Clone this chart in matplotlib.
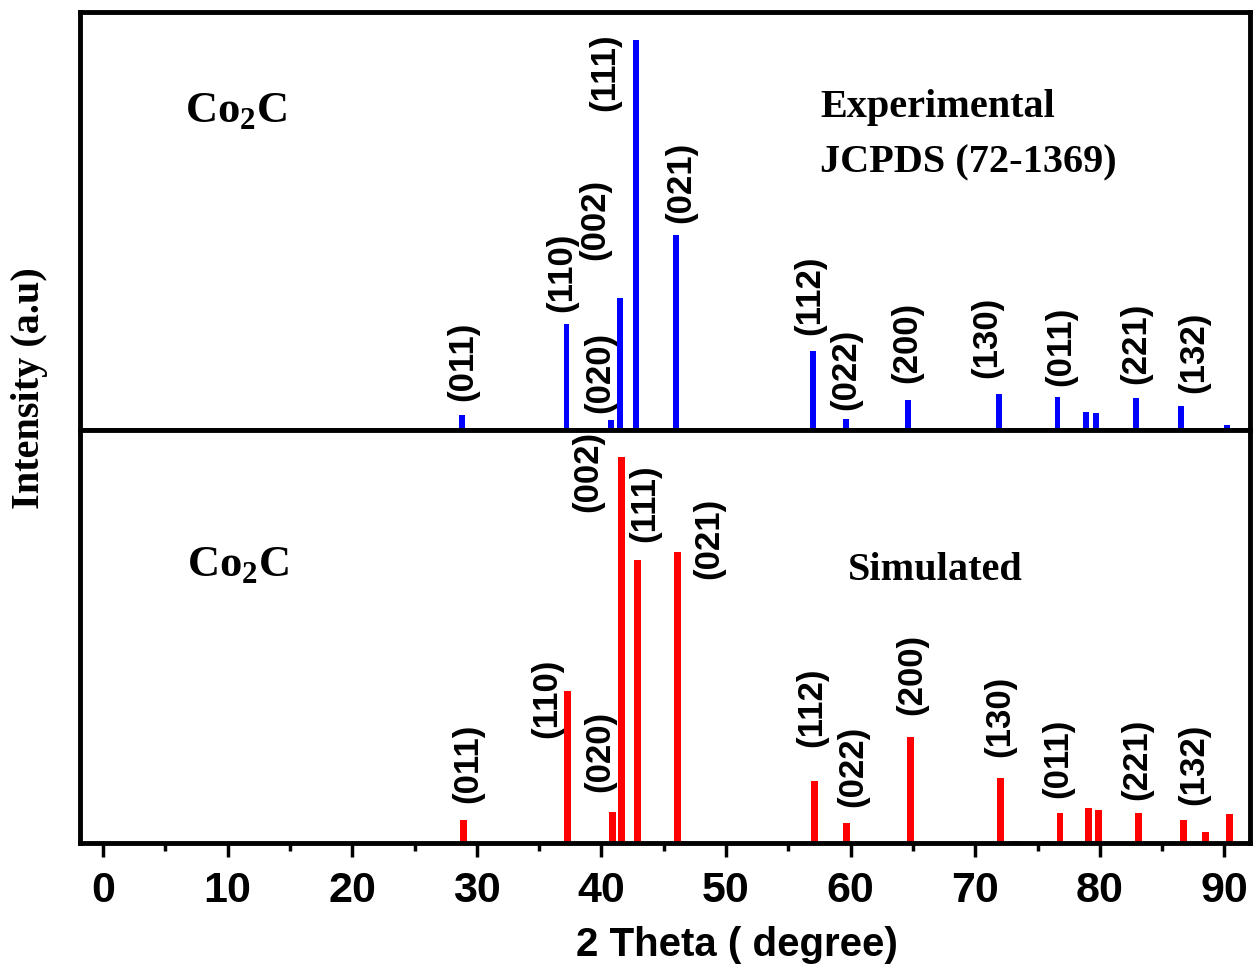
import matplotlib.pyplot as plt

plt.rcParams['mathtext.fontset'] = 'custom'
plt.rcParams['mathtext.rm'] = 'Liberation Serif:bold'
plt.rcParams['mathtext.bf'] = 'Liberation Serif:bold'

# --- Experimental (JCPDS 72-1369) ---
exp_pos = [28.8, 37.2, 40.8, 41.5, 42.8, 46.0, 46.5, 57.0, 59.6, 64.6, 71.9, 75.6,
           76.6, 78.9, 79.7, 82.9, 86.5, 88.3, 90.2]
exp_int = [3.9, 27.1, 2.6, 33.9, 100, 50.1, 0.5, 20.2, 2.8, 7.8, 9.3, 0.5,
           8.5, 4.7, 4.4, 8.3, 6.2, 0.5, 1.3]

# --- Simulated ---
sim_pos = [28.9, 37.3, 40.9, 41.6, 42.9, 46.1, 46.6, 57.1, 59.7, 64.8, 72.0, 73.2,
           75.7, 76.8, 79.1, 79.5, 79.9, 83.1, 86.7, 88.5, 90.4]
sim_int = [6.0, 39.5, 8.1, 100, 73.2, 75.3, 0.5, 16.1, 5.2, 27.5, 16.9, 0.4,
           0.4, 7.8, 9.1, 0.4, 8.6, 7.8, 6.0, 2.9, 7.5]

# Miller index labels: (text, x, bottom y)
exp_hkl = ['(011)', '(110)', '(020)', '(002)', '(111)', '(021)', '(112)', '(022)',
           '(200)', '(130)', '(011)', '(221)', '(132)']
exp_hkl_x = [28.9, 36.8, 39.9, 39.5, 40.3, 46.4, 56.7, 59.6, 64.5, 70.9, 76.9, 82.9, 87.5]
exp_hkl_y = [7.5, 30.2, 4.4, 43.7, 81.9, 53.0, 24.3, 5.2, 12.1, 13.4, 11.4, 11.7, 9.6]

sim_hkl = ['(011)', '(110)', '(020)', '(002)', '(111)', '(021)', '(112)', '(022)',
           '(200)', '(130)', '(011)', '(221)', '(132)']
sim_hkl_x = [29.3, 35.6, 39.9, 38.9, 43.5, 48.6, 56.9, 60.2, 64.9, 72.0, 76.6, 83.0, 87.5]
sim_hkl_y = [10.4, 27.3, 13.3, 85.7, 77.9, 68.3, 25.0, 9.4, 33.2, 22.4, 11.7, 11.2, 9.9]

fig = plt.figure(figsize=(12.55, 9.72), dpi=100)
ax1 = fig.add_axes([0.0637, 0.5576, 0.9323, 0.4301])
ax2 = fig.add_axes([0.0637, 0.1327, 0.9323, 0.4249])

ax1.bar(exp_pos, exp_int, width=0.47, color='#0000ff')
ax2.bar(sim_pos, sim_int, width=0.55, color='#ff0000')

for t, x, y in zip(exp_hkl, exp_hkl_x, exp_hkl_y):
    ax1.text(x, y, t, rotation=90, ha='center', va='bottom', fontsize=25,
             fontweight='bold', family='Liberation Sans')
for t, x, y in zip(sim_hkl, sim_hkl_x, sim_hkl_y):
    ax2.text(x, y, t, rotation=90, ha='center', va='bottom', fontsize=25,
             fontweight='bold', family='Liberation Sans')

for ax in (ax1, ax2):
    ax.set_xlim(-1.85, 92.05)
    ax.set_yticks([])
    for s in ax.spines.values():
        s.set_linewidth(3.5)
ax1.set_ylim(0, 107.2)
ax2.set_ylim(0, 107.0)
ax1.set_xticks([])

ax2.set_xticks(range(0, 91, 10))
ax2.set_xticks(range(5, 91, 10), minor=True)
ax2.tick_params(axis='x', which='major', length=10, width=2.5, direction='out', pad=10)
ax2.tick_params(axis='x', which='minor', length=6, width=2.5, direction='out')
for lab in ax2.get_xticklabels():
    lab.set_fontsize(31)
    lab.set_fontweight('bold')
    lab.set_family('Liberation Sans')

serif = dict(family='Liberation Serif', fontweight='bold')
fig.text(185 / 1255, 1 - 123 / 972, r'Co$_2$C', fontsize=32, va='baseline', **serif)
fig.text(187 / 1255, 1 - 577 / 972, r'Co$_2$C', fontsize=32, va='baseline', **serif)
fig.text(820 / 1255, 1 - 117 / 972, 'Experimental', fontsize=29, va='baseline', **serif)
fig.text(820 / 1255, 1 - 172 / 972, 'JCPDS (72-1369)', fontsize=29, va='baseline', **serif)
fig.text(848 / 1255, 1 - 580 / 972, 'Simulated', fontsize=29, va='baseline', **serif)

fig.text(30 / 1255, 1 - 388 / 972, 'Intensity (a.u)', rotation=90, fontsize=29,
         ha='center', va='center', **serif)
fig.text(737 / 1255, 1 - 945 / 972, '2 Theta ( degree)', fontsize=29, ha='center',
         va='center', fontweight='bold', family='Liberation Sans')

plt.savefig('out.png')
